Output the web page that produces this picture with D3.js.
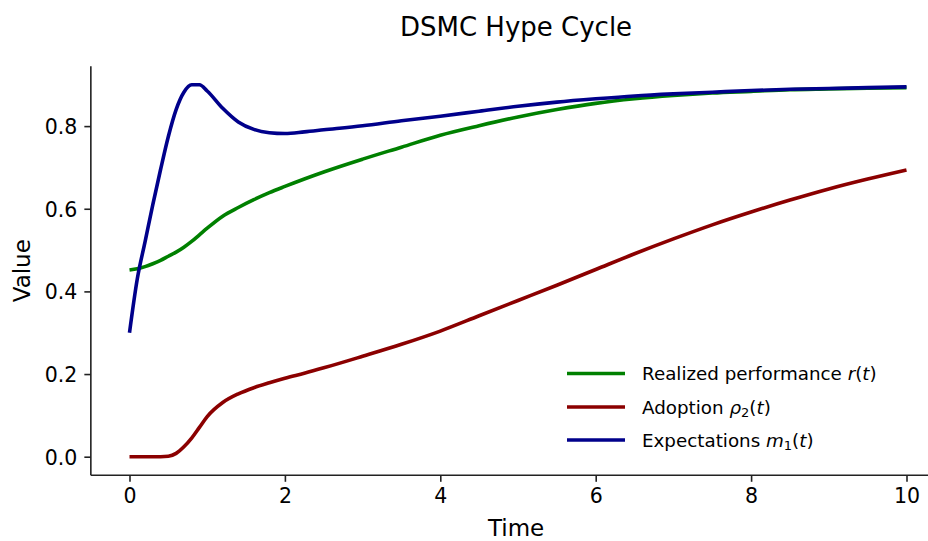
<!DOCTYPE html>
<html>
<head>
<meta charset="utf-8">
<script src="https://cdn.jsdelivr.net/npm/d3@7"></script>
<style>
  html, body { margin: 0; padding: 0; background: #fff; }
  svg { display: block; font-family: "DejaVu Sans", sans-serif; }
</style>
</head>
<body>
<svg id="chart" width="928" height="541"></svg>
<script>
// ---- data ----
const time = [0, 0.1, 0.2, 0.3, 0.4, 0.5, 0.6, 0.7, 0.8, 0.9, 1.0, 1.2, 1.4, 1.6, 1.8, 2.0, 2.25, 2.5, 3.0, 3.5, 4.0, 4.5, 5.0, 5.5, 6.0, 6.5, 7.0, 7.5, 8.0, 8.5, 9.0, 9.5, 10.0];
const realizedPerformance = [0.452, 0.455, 0.460, 0.467, 0.475, 0.485, 0.495, 0.507, 0.521, 0.537, 0.553, 0.582, 0.603, 0.622, 0.639, 0.654, 0.672, 0.689, 0.720, 0.749, 0.778, 0.801, 0.822, 0.840, 0.855, 0.866, 0.874, 0.880, 0.884, 0.888, 0.890, 0.892, 0.893];
const adoption = [0, 0, 0, 0, 0, 0.001, 0.008, 0.024, 0.045, 0.071, 0.097, 0.131, 0.152, 0.167, 0.179, 0.190, 0.202, 0.215, 0.243, 0.272, 0.304, 0.341, 0.378, 0.415, 0.453, 0.491, 0.527, 0.561, 0.592, 0.621, 0.648, 0.672, 0.694];
const expectations = [0.300, 0.430, 0.520, 0.610, 0.695, 0.775, 0.840, 0.882, 0.900, 0.900, 0.885, 0.843, 0.810, 0.792, 0.784, 0.782, 0.786, 0.791, 0.801, 0.813, 0.824, 0.836, 0.848, 0.858, 0.866, 0.873, 0.878, 0.882, 0.886, 0.889, 0.891, 0.893, 0.895];
const xTicks = [0, 2, 4, 6, 8, 10];
const yTicks = [0.0, 0.2, 0.4, 0.6, 0.8];
const seriesNames = ["Realized performance", "Adoption", "Expectations"];
const seriesColors = ["#008000", "#8b0000", "#00008b"];
const title = "DSMC Hype Cycle";
const xLabel = "Time";
const yLabel = "Value";

const svg = d3.select("#chart");
const x = d3.scaleLinear().domain([0, 10]).range([129.5, 906.5]);
const y = d3.scaleLinear().domain([0, 0.8]).range([456.7, 126.1]);
const xMin = -0.4975, xMax = 10.4475, yMin = -0.045, yMax = 0.945;

// lines
const series = [realizedPerformance, adoption, expectations];
const line = d3.line().x((d, i) => x(time[i])).y(d => y(d)).curve(d3.curveMonotoneX);
series.forEach((s, k) => {
  svg.append("path").datum(s)
    .attr("d", line)
    .attr("fill", "none")
    .attr("stroke", seriesColors[k])
    .attr("stroke-width", 3.6)
    .attr("stroke-linejoin", "round");
});

// spines
svg.append("line").attr("x1", x(xMin)).attr("x2", x(xMin)).attr("y1", y(yMin)).attr("y2", y(yMax))
  .attr("stroke", "#222").attr("stroke-width", 1.6);
svg.append("line").attr("x1", x(xMin)).attr("x2", x(xMax)).attr("y1", y(yMin)).attr("y2", y(yMin))
  .attr("stroke", "#222").attr("stroke-width", 1.6);

// axes
const xAxis = d3.axisBottom(x).tickValues(xTicks).tickFormat(d3.format("d")).tickSize(6.5).tickPadding(7);
const gx = svg.append("g").attr("transform", `translate(0,${y(yMin)})`).call(xAxis);
const yAxis = d3.axisLeft(y).tickValues(yTicks).tickFormat(d3.format(".1f")).tickSize(6.5).tickPadding(7);
const gy = svg.append("g").attr("transform", `translate(${x(xMin)},0)`).call(yAxis);
[gx, gy].forEach(g => {
  g.select(".domain").remove();
  g.selectAll(".tick line").attr("stroke", "#222").attr("stroke-width", 1.6);
  g.selectAll(".tick text").attr("fill", "#000").style("font-size", "20.5px").style("font-family", "DejaVu Sans");
});
gy.selectAll(".tick text").attr("dy", "0.36em");

// title & labels
svg.append("text").attr("x", (x(xMin) + x(xMax)) / 2).attr("y", 36)
  .attr("text-anchor", "middle").style("font-size", "26px").text(title);
svg.append("text").attr("x", (x(xMin) + x(xMax)) / 2).attr("y", 536)
  .attr("text-anchor", "middle").style("font-size", "23px").text(xLabel);
svg.append("text").attr("transform", `translate(30,${(y(yMin) + y(yMax)) / 2}) rotate(-90)`)
  .attr("text-anchor", "middle").style("font-size", "23px").text(yLabel);

// legend
const legendY = [373.5, 407, 440];
const lg = svg.append("g");
seriesNames.forEach((name, k) => {
  lg.append("line").attr("x1", 567).attr("x2", 625).attr("y1", legendY[k]).attr("y2", legendY[k])
    .attr("stroke", seriesColors[k]).attr("stroke-width", 3.6);
  const t = lg.append("text").attr("x", 642).attr("y", legendY[k] + 6.8).style("font-size", "18.3px");
  t.append("tspan").text(name + " ");
  if (k === 0) {
    t.append("tspan").style("font-style", "italic").text("r");
    t.append("tspan").text("(");
    t.append("tspan").style("font-style", "italic").text("t");
    t.append("tspan").text(")");
  } else if (k === 1) {
    t.append("tspan").style("font-style", "italic").text("ρ");
    t.append("tspan").attr("dy", 3).style("font-size", "13px").text("2");
    t.append("tspan").attr("dy", -3).text("(");
    t.append("tspan").style("font-style", "italic").text("t");
    t.append("tspan").text(")");
  } else {
    t.append("tspan").style("font-style", "italic").text("m");
    t.append("tspan").attr("dy", 3).style("font-size", "13px").text("1");
    t.append("tspan").attr("dy", -3).text("(");
    t.append("tspan").style("font-style", "italic").text("t");
    t.append("tspan").text(")");
  }
});
</script>
</body>
</html>
